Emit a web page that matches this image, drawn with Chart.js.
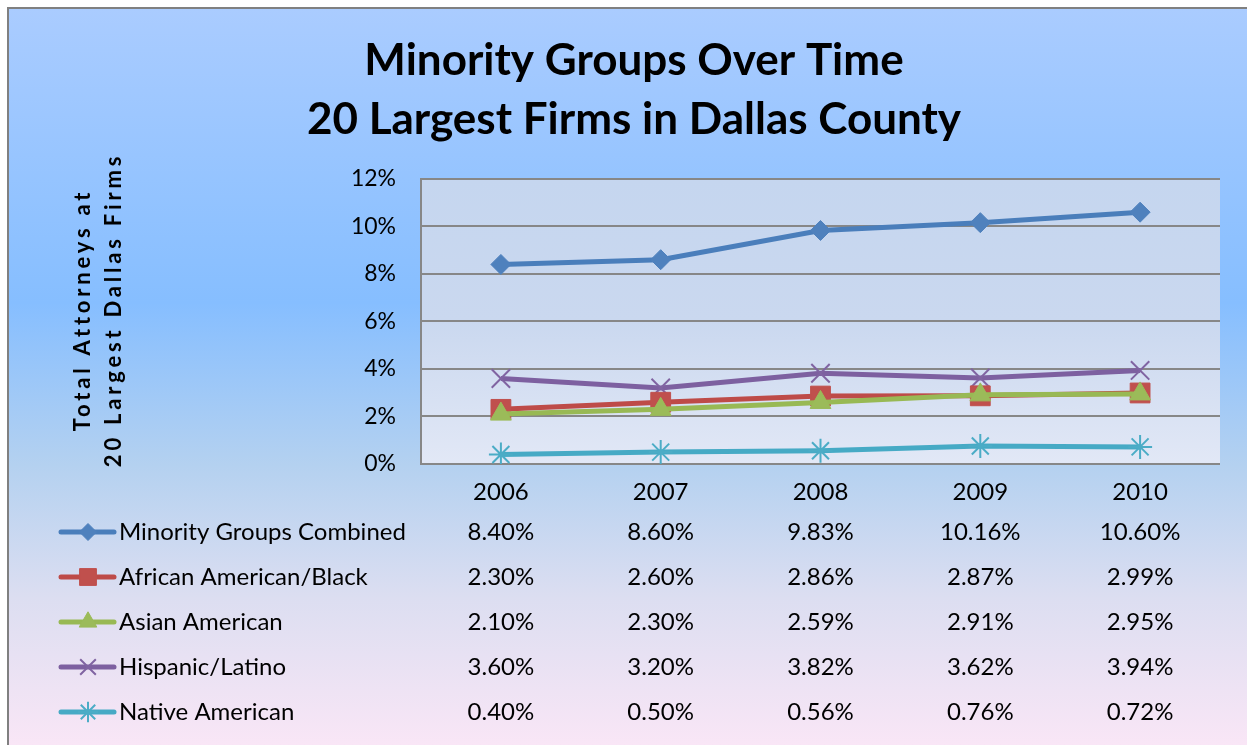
<!DOCTYPE html>
<html>
<head>
<meta charset="utf-8">
<script src="https://cdn.jsdelivr.net/npm/chart.js@4"></script>
<style>
html,body{margin:0;padding:0;background:#fff;}
#wrap{width:1247px;height:745px;position:relative;}
canvas{display:block;}
</style>
</head>
<body>
<div id="wrap"><canvas id="c" width="1247" height="745"></canvas></div>
<script>
// ---- data ----
const categories = ['2006', '2007', '2008', '2009', '2010'];
const seriesNames = ['Minority Groups Combined', 'African American/Black', 'Asian American', 'Hispanic/Latino', 'Native American'];
const combined = [8.40, 8.60, 9.83, 10.16, 10.60];
const african = [2.30, 2.60, 2.86, 2.87, 2.99];
const asian = [2.10, 2.30, 2.59, 2.91, 2.95];
const hispanic = [3.60, 3.20, 3.82, 3.62, 3.94];
const nativeAm = [0.40, 0.50, 0.56, 0.76, 0.72];
const yTickValues = [0, 2, 4, 6, 8, 10, 12];
const titleLines = ['Minority Groups Over Time', '20 Largest Firms in Dallas County'];
const yTitleLines = ['Total Attorneys at', '20 Largest Dallas Firms'];

// ---- styles ----
const FONT = 'Lato, "Open Sans", sans-serif';
const styles = [
  {line: '#4A7EBB', fill: '#4F81BD', pointStyle: 'rectRot', radius: 10, bw: 1, order: 0},
  {line: '#BE4B48', fill: '#C0504D', pointStyle: 'rect', radius: 14, bw: 1, order: 2},
  {line: '#98B954', fill: '#9BBB59', pointStyle: 'triangle', radius: 12, bw: 1, order: 1},
  {line: '#7D60A0', fill: '#8064A2', pointStyle: 'crossRot', radius: 13, bw: 2, order: 3},
  {line: '#46AAC5', fill: '#4BACC6', pointStyle: 'star', radius: 12, bw: 2, order: 4}
];
const allSeries = [combined, african, asian, hispanic, nativeAm];

const datasets = allSeries.map((d, i) => ({
  label: seriesNames[i],
  data: d,
  borderColor: styles[i].line,
  backgroundColor: styles[i].fill,
  borderWidth: 5,
  pointStyle: styles[i].pointStyle,
  pointRadius: styles[i].radius,
  pointBorderColor: styles[i].fill,
  pointBackgroundColor: styles[i].fill,
  pointBorderWidth: styles[i].bw,
  tension: 0,
  order: styles[i].order
}));

const bgPlugin = {
  id: 'bg',
  beforeDraw(chart) {
    const ctx = chart.ctx;
    const W = chart.width, H = chart.height;
    ctx.save();
    ctx.fillStyle = '#ffffff';
    ctx.fillRect(0, 0, W, H);
    const g = ctx.createLinearGradient(0, 8, 0, H);
    g.addColorStop(0, '#AACCFF');
    g.addColorStop(0.4, '#86BEFF');
    g.addColorStop(0.62, '#B4D1F0');
    g.addColorStop(0.8, '#DCDEF1');
    g.addColorStop(1, '#F9E6F6');
    ctx.fillStyle = g;
    ctx.fillRect(8, 8, W - 8, H - 8);
    ctx.strokeStyle = '#808080';
    ctx.lineWidth = 2;
    ctx.beginPath();
    ctx.moveTo(8, H);
    ctx.lineTo(8, 8);
    ctx.lineTo(W, 8);
    ctx.stroke();
    // plot area
    const a = chart.chartArea;
    const pg = ctx.createLinearGradient(0, a.top, 0, a.bottom);
    pg.addColorStop(0, '#C5D6EF');
    pg.addColorStop(0.5, '#CAD8EF');
    pg.addColorStop(1, '#E2E8F6');
    ctx.fillStyle = pg;
    ctx.fillRect(a.left, a.top, a.right - a.left, a.bottom - a.top);
    ctx.restore();
  },
  afterDraw(chart) {
    const ctx = chart.ctx;
    const xs = chart.scales.x;
    ctx.save();
    // y-axis title (rotated, letter-spaced)
    ctx.fillStyle = '#000';
    ctx.font = 'bold 22px ' + FONT;
    try { ctx.letterSpacing = '3.8px'; } catch (e) {}
    ctx.textAlign = 'center';
    ctx.textBaseline = 'middle';
    const tx = [83, 114];
    yTitleLines.forEach((t, i) => {
      ctx.save();
      ctx.translate(tx[i], 310);
      ctx.rotate(-Math.PI / 2);
      ctx.fillText(t, 0, 0);
      ctx.restore();
    });
    try { ctx.letterSpacing = '0px'; } catch (e) {}
    // data table with legend keys
    const rowY0 = 532, rowStep = 45;
    ctx.font = '24px ' + FONT;
    allSeries.forEach((d, i) => {
      const y = rowY0 + i * rowStep;
      const st = styles[i];
      ctx.strokeStyle = st.line;
      ctx.lineWidth = 5;
      ctx.lineCap = 'round';
      ctx.beginPath();
      ctx.moveTo(61, y);
      ctx.lineTo(114, y);
      ctx.stroke();
      ctx.fillStyle = st.fill;
      ctx.strokeStyle = st.fill;
      ctx.lineWidth = st.bw;
      ctx.lineCap = 'butt';
      Chart.helpers.drawPoint(ctx, {pointStyle: st.pointStyle, radius: st.radius * 0.85, rotation: 0, borderWidth: st.bw}, 88, y);
      ctx.fillStyle = '#000';
      ctx.textAlign = 'left';
      ctx.textBaseline = 'middle';
      ctx.fillText(seriesNames[i], 119, y);
      ctx.textAlign = 'center';
      d.forEach((v, j) => {
        ctx.fillText(v.toFixed(2) + '%', xs.getPixelForValue(j), y);
      });
    });
    ctx.restore();
  }
};

new Chart(document.getElementById('c'), {
  type: 'line',
  data: {labels: categories, datasets: datasets},
  options: {
    responsive: false,
    animation: false,
    devicePixelRatio: 1,
    layout: {padding: {left: 48, right: 27, top: 0, bottom: 241}},
    plugins: {
      legend: {display: false},
      tooltip: {enabled: false},
      title: {
        display: true,
        text: titleLines,
        color: '#000',
        font: {family: FONT, size: 44, weight: 'bold', lineHeight: 1.34},
        padding: {top: 31, bottom: 30}
      }
    },
    scales: {
      x: {
        offset: true,
        grid: {display: false, drawTicks: false},
        border: {display: false},
        ticks: {color: '#000', font: {family: FONT, size: 24}, padding: 14, maxRotation: 0},
        afterFit(s) { s.height = 40; }
      },
      y: {
        min: 0, max: 12,
        afterBuildTicks(s) { s.ticks = yTickValues.map(v => ({value: v})); },
        grid: {color: '#878787', lineWidth: 2, drawTicks: false},
        border: {display: true, color: '#878787', width: 2},
        ticks: {color: '#000', font: {family: FONT, size: 23}, padding: 25, callback: v => v + '%'},
        afterFit(s) { s.width = 373; }
      }
    }
  },
  plugins: [bgPlugin]
});
</script>
</body>
</html>
